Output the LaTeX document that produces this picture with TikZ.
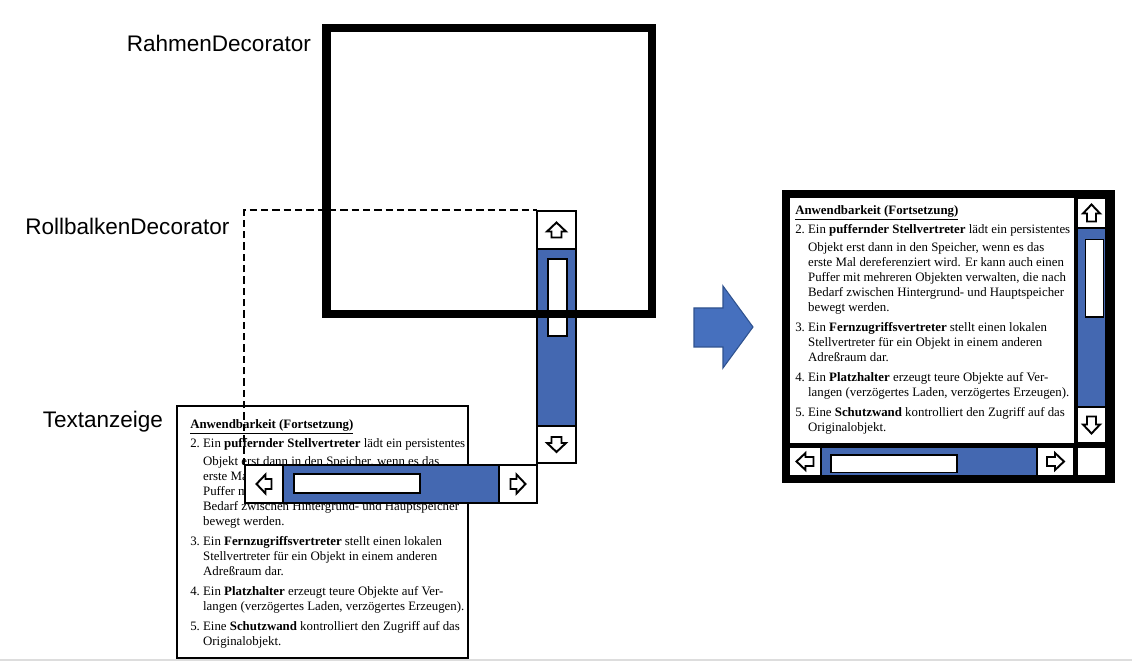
\documentclass[tikz,border=0pt]{standalone}
\usepackage{fontspec}
\setmainfont{Liberation Serif}
\newfontfamily\labelfont{Liberation Sans}
\definecolor{barblue}{HTML}{4468B1}
\definecolor{arrowblue}{HTML}{4670BE}
\definecolor{arrowedge}{HTML}{2F528F}
\definecolor{rulegray}{HTML}{DDDDDD}

\newcommand{\anwtext}{%
\fontsize{9.64}{11.25}\selectfont
\begin{tabular}[t]{@{}l@{\hspace{0.25em}}l@{}}
\multicolumn{2}{@{}l@{}}{\underline{\textbf{Anwendbarkeit (Fortsetzung)}}}\\[3pt]
2. & Ein \textbf{puffernder Stellvertreter} lädt ein persistentes\\[2.25pt]
 & Objekt erst dann in den Speicher, wenn es das\\
 & erste Mal dereferenziert wird. Er kann auch einen\\
 & Puffer mit mehreren Objekten verwalten, die nach\\
 & Bedarf zwischen Hintergrund- und Hauptspeicher\\
 & bewegt werden.\\[3.75pt]
3. & Ein \textbf{Fernzugriffsvertreter} stellt einen lokalen\\
 & Stellvertreter für ein Objekt in einem anderen\\
 & Adreßraum dar.\\[3.75pt]
4. & Ein \textbf{Platzhalter} erzeugt teure Objekte auf Ver-\\
 & langen (verzögertes Laden, verzögertes Erzeugen).\\[3.75pt]
5. & Eine \textbf{Schutzwand} kontrolliert den Zugriff auf das\\
 & Originalobjekt.
\end{tabular}}

\tikzset{
  lab/.style={inner sep=0pt, anchor=base west, font=\labelfont\fontsize{16.9}{20}\selectfont},
  textblk/.style={inner sep=0pt, anchor=base west},
  btn/.style={draw=black, fill=white, line width=1.1pt},
  bar/.style={draw=black, fill=barblue, line width=0.8pt},
  thumb/.style={draw=black, fill=white, line width=1.1pt},
  sarrow/.pic={\draw[line width=1.45pt, fill=white, line join=miter]
     (0,-7.5)--(9.5,1.5)--(5,1.5)--(5,7.5)--(-5,7.5)--(-5,1.5)--(-9.5,1.5)--cycle;},
  sarrowsm/.pic={\draw[line width=1.45pt, fill=white, line join=miter]
     (0,-8.5)--(8.5,0.5)--(4.5,0.5)--(4.5,8.5)--(-4.5,8.5)--(-4.5,0.5)--(-8.5,0.5)--cycle;}
}

\begin{document}
\begin{tikzpicture}[x=0.75pt,y=-0.75pt]
\useasboundingbox (0,0) rectangle (1132,666);
\fill[white] (0,0) rectangle (1132,666);

% bottom gray rule
\draw[draw=rulegray, line width=1.5pt] (0,660) -- (1132,660);

% labels
\node[lab] (lrahmen) at (126.5,51.7) {RahmenDecorator};
\node[lab] (lroll) at (25,234.3) {RollbalkenDecorator};
\node[lab] (ltext) at (42.5,427.3) {Textanzeige};

% Textanzeige box
\draw[line width=1.5pt, fill=white] (177,406) rectangle (468,658);
\node[textblk] (txtL) at (190,429) {\anwtext};

% dashed Rollbalken outline
\draw[line width=1.5pt, dash pattern=on 5.5pt off 3pt] (244,465) -- (244,210) -- (537,210);

% vertical scrollbar (left composite)
\draw[bar] (537,249) rectangle (576,426);
\draw[thumb] (548,259) rectangle (567,336);
\draw[btn] (537,211) rectangle (576,249);
\pic at (556.5,230) {sarrow};
\draw[btn] (537,426) rectangle (576,463);
\pic[rotate=180] at (556.5,444.5) {sarrow};

% horizontal scrollbar (left composite)
\draw[bar] (283,465) rectangle (499,503);
\draw[thumb] (294,474) rectangle (420,493);
\draw[btn] (245,465) rectangle (283,503);
\pic[rotate=90] at (264,484) {sarrow};
\draw[btn] (499,465) rectangle (537,503);
\pic[rotate=-90] at (518,484) {sarrow};

% Rahmen frame
\draw[line width=6.4pt, line join=miter] (326.5,28) rectangle (652,314);

% big arrow
\draw[fill=arrowblue, draw=arrowedge, line width=0.8pt, line join=miter]
  (694,308) -- (723,308) -- (723,286) -- (753,327) -- (723,368) -- (723,347) -- (694,347) -- cycle;

% right composite
\fill[black] (782,190) rectangle (1115,483);
\fill[white] (790,198) rectangle (1074,443);
\node[textblk] (txtR) at (795,214.7) {\anwtext};
\draw[bar] (1077,228) rectangle (1106,407);
\draw[thumb] (1085.5,239.5) rectangle (1103.5,317);
\draw[btn] (1077,198) rectangle (1106,228);
\pic at (1091.5,213) {sarrowsm};
\draw[btn] (1077,407) rectangle (1106,443);
\pic[rotate=180] at (1091.5,425) {sarrowsm};
\draw[bar] (821,447) rectangle (1037,476);
\draw[thumb] (831,455) rectangle (957,472.5);
\draw[btn] (789,447) rectangle (821,476);
\pic[rotate=90] at (805,461.5) {sarrowsm};
\draw[btn] (1037,447) rectangle (1074,476);
\pic[rotate=-90] at (1055.5,461.5) {sarrowsm};
\draw[btn] (1077,447) rectangle (1106,476);
\end{tikzpicture}
\end{document}
